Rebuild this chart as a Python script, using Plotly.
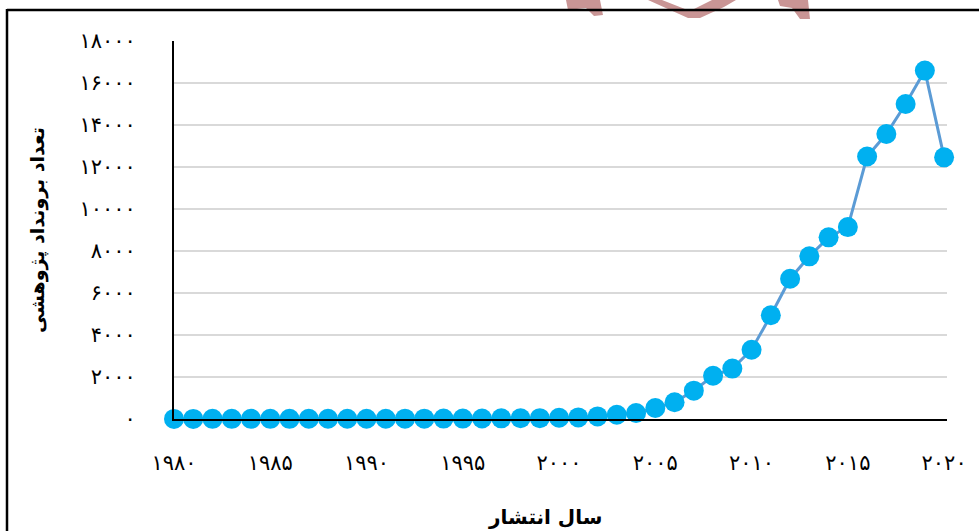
import plotly.graph_objects as go

# Publication counts per year
years = list(range(1980, 2021))
counts = [5, 5, 6, 6, 7, 8, 9, 10, 11, 12, 13, 14, 15, 16, 18, 20, 25, 30, 35, 40,
          60, 76, 124, 205, 286, 524, 800, 1350, 2060, 2400, 3300, 4940, 6680,
          7745, 8650, 9140, 12500, 13570, 15000, 16590, 12460]

fa_digits = str.maketrans("0123456789", "۰۱۲۳۴۵۶۷۸۹")
y_ticks = list(range(0, 18001, 2000))
y_labels = [str(v).translate(fa_digits) for v in y_ticks]
x_ticks = list(range(1980, 2021, 5))
x_labels = [str(v).translate(fa_digits) for v in x_ticks]

x_title = "سال انتشار"
y_title = "تعداد برونداد پژوهشی"

W, H = 979, 531
L, R, T, B = 174, 32, 41, 112
PW, PH = W - L - R, H - T - B


def xp(px):
    return (px - L) / PW


def yp(py):
    return (H - B - py) / PH


font_fa = "DejaVu Sans"

fig = go.Figure()
fig.add_trace(go.Scatter(
    x=years, y=counts, mode="lines+markers",
    line=dict(color="#5B9BD5", width=3),
    marker=dict(color="#00B0F0", size=20),
    cliponaxis=False, hoverinfo="x+y",
))


def poly(points, color):
    d = "M " + " L ".join(f"{xp(a):.5f},{yp(b):.5f}" for a, b in points) + " Z"
    return dict(type="path", xref="paper", yref="paper", path=d,
                fillcolor=color, line=dict(width=0), layer="below")


pink = "#C99595"
shapes = [
    poly([(566, 0), (600, 0), (603, 15), (594, 16), (586, 8), (568, 10)], pink),
    poly([(648, 0), (662, 0), (690, 11), (712, 0), (736, 0), (724, 7), (700, 18), (688, 18)], pink),
    poly([(778, 0), (808, 0), (810, 19), (800, 19), (792, 8), (780, 6)], pink),
    # frame
    dict(type="line", xref="paper", yref="paper", x0=xp(7), x1=xp(W + 5), y0=yp(10), y1=yp(10),
         line=dict(color="black", width=2.5)),
    dict(type="line", xref="paper", yref="paper", x0=xp(7), x1=xp(7), y0=yp(9), y1=yp(H + 5),
         line=dict(color="black", width=2.5)),
]

fig.update_layout(
    width=W, height=H,
    margin=dict(l=L, r=R, t=T, b=B),
    paper_bgcolor="white", plot_bgcolor="white",
    showlegend=False,
    shapes=shapes,
    font=dict(family=font_fa, color="black"),
    xaxis=dict(range=[1980, 2020.15], tickvals=x_ticks, ticktext=x_labels,
               showgrid=False, zeroline=False, showline=True, linecolor="black",
               linewidth=2, ticks="", ticklabelstandoff=24,
               tickfont=dict(size=21, family=font_fa)),
    yaxis=dict(range=[0, 18000], tickvals=y_ticks, ticktext=y_labels,
               showgrid=True, gridcolor="#D9D9D9", gridwidth=1.5,
               zeroline=False, showline=True, linecolor="black", linewidth=2,
               ticks="", ticklabelstandoff=32,
               tickfont=dict(size=21, family=font_fa)),
    annotations=[
        dict(text="<b>" + x_title + "</b>", xref="paper", yref="paper",
             x=xp(545), y=yp(517), showarrow=False, xanchor="center", yanchor="middle",
             font=dict(size=20, family=font_fa)),
        dict(text="<b>" + y_title + "</b>", xref="paper", yref="paper",
             x=xp(37), y=yp(230), showarrow=False, textangle=-90,
             xanchor="center", yanchor="middle",
             font=dict(size=19, family=font_fa)),
    ],
)

fig.write_html("out.html")
